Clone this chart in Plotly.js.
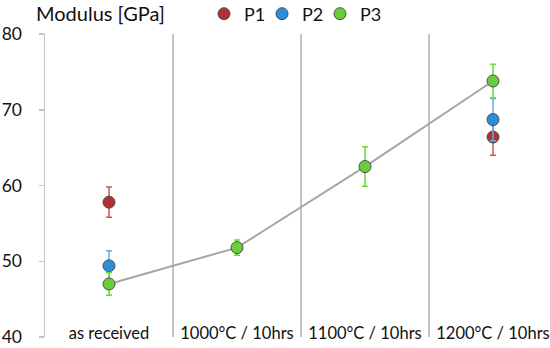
<!DOCTYPE html>
<html>
<head>
<meta charset="utf-8">
<script src="https://cdn.plot.ly/plotly-3.0.1.min.js"></script>
<style>html,body{margin:0;padding:0;background:#fff;}#chart{width:550px;height:348px;}</style>
</head>
<body>
<div id="chart"></div>
<script>
// Data
const categories = ["as received", "1000°C / 10hrs", "1100°C / 10hrs", "1200°C / 10hrs"];
const p1Values = [57.8, null, null, 66.4];
const p1Errors = [2.0, null, null, 2.4];
const p2Values = [49.4, null, null, 68.7];
const p2Errors = [2.0, null, null, 2.8];
const p3Values = [47.0, 51.8, 62.5, 73.8];
const p3Errors = [1.5, 1.0, 2.6, 2.2];
const yTicks = [40, 50, 60, 70, 80];

const FONT = "Lato, 'Open Sans', sans-serif";
const TEXT = "#111111";

function series(name, vals, errs, fill, errColor, legendId) {
  return {
    type: "scatter", mode: "markers", name: name, legend: legendId,
    x: categories, y: vals,
    error_y: {type: "data", array: errs, visible: true, color: errColor, thickness: 1.5, width: 3},
    marker: {size: 12, color: fill, line: {color: "#4d4d4d", width: 1}},
    cliponaxis: false
  };
}

const lineTrace = {
  type: "scatter", mode: "lines", x: categories, y: p3Values,
  line: {color: "#a6a6a6", width: 2}, showlegend: false, hoverinfo: "skip"
};

const data = [
  lineTrace,
  series("P1", p1Values, p1Errors, "#b03232", "#c85a58", "legend"),
  series("P2", p2Values, p2Errors, "#2a8fd9", "#62aee6", "legend2"),
  series("P3", p3Values, p3Errors, "#6acd3a", "#66dd2e", "legend3")
];

function legendAt(px) {
  return {
    orientation: "h", xref: "container", yref: "container",
    x: px/550, xanchor: "left", y: 1 - 14/348, yanchor: "middle",
    font: {family: FONT, size: 18, color: TEXT},
    bgcolor: "rgba(0,0,0,0)", itemwidth: 30
  };
}

const layout = {
  width: 550, height: 348,
  margin: {l: 45, r: 0, t: 34, b: 11, pad: 0},
  paper_bgcolor: "#ffffff", plot_bgcolor: "#ffffff",
  font: {family: FONT, color: TEXT, size: 16},
  title: {
    text: "Modulus [GPa]", font: {family: FONT, size: 20, color: TEXT},
    xref: "container", yref: "container", x: 36/550, xanchor: "left",
    y: 1 - 14/348, yanchor: "middle"
  },
  showlegend: true,
  legend: legendAt(204),
  legend2: legendAt(262),
  legend3: legendAt(320),
  xaxis: {
    type: "category", categoryorder: "array", categoryarray: categories,
    range: [-0.5, -0.5 + 505/128],
    tickson: "boundaries", ticks: "", showgrid: true,
    gridcolor: "#c4c4c4", gridwidth: 1.5,
    showline: false, zeroline: false,
    ticklabelposition: "outside", ticklabelstandoff: -16,
    tickfont: {family: FONT, size: 16.5, color: TEXT},
    fixedrange: true
  },
  yaxis: {
    range: [40, 80], tickvals: yTicks, ticktext: yTicks.map(String),
    showgrid: false, zeroline: false,
    showline: true, linecolor: "#c4c4c4", linewidth: 1.5,
    ticks: "outside", ticklen: 5, tickcolor: "#c4c4c4", tickwidth: 1.5,
    ticklabelstandoff: 13,
    tickfont: {family: FONT, size: 17.5, color: TEXT},
    fixedrange: true
  }
};

Plotly.newPlot("chart", data, layout, {displayModeBar: false, staticPlot: true});
</script>
</body>
</html>
